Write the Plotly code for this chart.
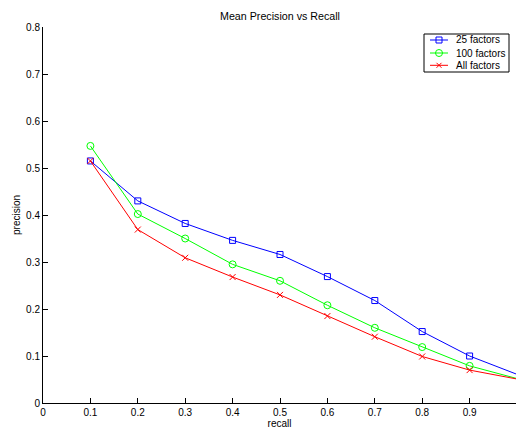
import plotly.graph_objects as go

recall = [0.1, 0.2, 0.3, 0.4, 0.5, 0.6, 0.7, 0.8, 0.9, 1.0]
prec_25 = [0.515, 0.430, 0.382, 0.346, 0.316, 0.269, 0.218, 0.152, 0.100, 0.061]
prec_100 = [0.547, 0.402, 0.350, 0.295, 0.260, 0.208, 0.160, 0.119, 0.079, 0.052]
prec_all = [0.515, 0.369, 0.309, 0.268, 0.230, 0.185, 0.141, 0.099, 0.070, 0.051]
series_names = ["25 factors", "100 factors", "All factors"]
x_ticks = [0, 0.1, 0.2, 0.3, 0.4, 0.5, 0.6, 0.7, 0.8, 0.9, 1]
y_ticks = [0, 0.1, 0.2, 0.3, 0.4, 0.5, 0.6, 0.7, 0.8]

BLUE, GREEN, RED = "#0000ff", "#00ff00", "#ff0000"

FW, FH = 516, 430
ML, MR, MT, MB = 43, 0, 27, 27
PW, PH = FW - ML - MR, FH - MT - MB


def px(X):
    return (X - ML) / PW


def py(Y):
    return 1 - (Y - MT) / PH


fig = go.Figure()
fig.add_trace(go.Scatter(x=recall, y=prec_25, name=series_names[0], mode="lines+markers",
                         line=dict(color=BLUE, width=1),
                         marker=dict(symbol="square-open", size=6, color=BLUE, line=dict(width=1)),
                         cliponaxis=False, showlegend=False))
fig.add_trace(go.Scatter(x=recall, y=prec_100, name=series_names[1], mode="lines+markers",
                         line=dict(color=GREEN, width=1),
                         marker=dict(symbol="circle-open", size=7, color=GREEN, line=dict(width=1)),
                         cliponaxis=False, showlegend=False))
fig.add_trace(go.Scatter(x=recall, y=prec_all, name=series_names[2], mode="lines+markers",
                         line=dict(color=RED, width=1),
                         marker=dict(symbol="x-thin-open", size=6, color=RED, line=dict(width=1, color=RED)),
                         cliponaxis=False, showlegend=False))

# compact MATLAB-style legend
shapes = [dict(type="rect", xref="paper", yref="paper", x0=px(424), x1=px(509), y0=py(72), y1=py(34),
               line=dict(color="black", width=1), fillcolor="white", layer="above")]
annotations = []
rows = [40, 53, 65.3]
colors = [BLUE, GREEN, RED]
for name, col, ry in zip(series_names, colors, rows):
    shapes.append(dict(type="line", xref="paper", yref="paper", x0=px(430), x1=px(448), y0=py(ry), y1=py(ry),
                       line=dict(color=col, width=1)))
    annotations.append(dict(text=name, xref="paper", yref="paper", x=px(454), y=py(ry),
                            xanchor="left", yanchor="middle", showarrow=False,
                            font=dict(size=10, color="black")))
shapes.append(dict(type="rect", xref="paper", yref="paper", xsizemode="pixel", ysizemode="pixel",
                   xanchor=px(439), yanchor=py(rows[0]), x0=-3, x1=3, y0=-3, y1=3,
                   line=dict(color=BLUE, width=1), fillcolor="rgba(0,0,0,0)"))
shapes.append(dict(type="circle", xref="paper", yref="paper", xsizemode="pixel", ysizemode="pixel",
                   xanchor=px(439), yanchor=py(rows[1]), x0=-3.5, x1=3.5, y0=-3.5, y1=3.5,
                   line=dict(color=GREEN, width=1), fillcolor="rgba(0,0,0,0)"))
for sgn in (1, -1):
    shapes.append(dict(type="line", xref="paper", yref="paper", xsizemode="pixel", ysizemode="pixel",
                       xanchor=px(439), yanchor=py(rows[2]), x0=-2.5, x1=2.5, y0=-2.5 * sgn, y1=2.5 * sgn,
                       line=dict(color=RED, width=1)))

fig.update_layout(
    width=FW, height=FH,
    margin=dict(l=ML, r=MR, t=MT, b=MB),
    paper_bgcolor="white", plot_bgcolor="white",
    font=dict(family="Arial, Liberation Sans", size=10, color="black"),
    title=dict(text="Mean Precision vs Recall", x=280 / FW, xanchor="center", y=1 - 16.5 / FH,
               yanchor="middle", font=dict(size=10.7)),
    showlegend=False,
    hovermode=False,
    shapes=shapes,
    annotations=annotations,
)
fig.update_xaxes(range=[0, PW / 474], tickvals=x_ticks, ticktext=[str(t) for t in x_ticks],
                 ticks="inside", ticklen=5, tickcolor="black", showline=True, linecolor="black",
                 linewidth=1, showgrid=False, zeroline=False,
                 title=dict(text="recall", standoff=1, font=dict(size=10)))
fig.update_yaxes(range=[0, 0.8], tickvals=y_ticks, ticktext=[str(t) for t in y_ticks],
                 ticks="inside", ticklen=5, tickcolor="black", showline=True, linecolor="black",
                 linewidth=1, showgrid=False, zeroline=False,
                 title=dict(text="precision", standoff=3, font=dict(size=10)))

fig.write_html("out.html", config={"displayModeBar": False, "staticPlot": True},
               post_script="document.body.style.margin='0';document.body.style.overflow='hidden';")
